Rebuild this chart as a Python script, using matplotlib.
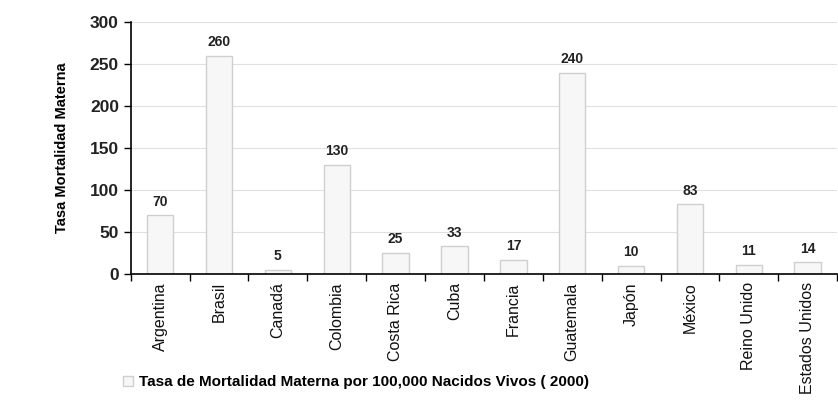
import matplotlib.pyplot as plt
import numpy as np

paises = ['Argentina', 'Brasil', 'Canadá', 'Colombia', 'Costa Rica', 'Cuba',
          'Francia', 'Guatemala', 'Japón', 'México', 'Reino Unido', 'Estados Unidos']
tasas = [70, 260, 5, 130, 25, 33, 17, 240, 10, 83, 11, 14]
yticks = [0, 50, 100, 150, 200, 250, 300]

plt.rcParams['font.family'] = ['Liberation Sans', 'DejaVu Sans']

fig = plt.figure(figsize=(8.38, 4.03), dpi=100)
ax = fig.add_axes([0.156, 0.320, 0.843, 0.625])

x = np.arange(len(paises))
ax.bar(x, tasas, width=0.45, color='#f7f7f7', edgecolor='#cfcfcf', linewidth=1,
       label='Tasa de Mortalidad Materna por 100,000 Nacidos Vivos ( 2000)', zorder=2)
for xi, v in zip(x, tasas):
    ax.text(xi, v + 8, str(v), ha='center', va='bottom', fontsize=10, fontweight='bold', color='#222222')

ax.set_xlim(-0.5, len(paises) - 0.5)
ax.set_ylim(0, 300)
ax.set_yticks(yticks)
ax.set_yticklabels([str(t) for t in yticks], fontsize=12.5, fontweight='bold', color='#222222')
ax.yaxis.grid(True, color='#e0e0e0', linewidth=0.8, zorder=0)
ax.set_axisbelow(True)

ax.set_xticks(np.arange(len(paises) + 1) - 0.5)
ax.set_xticklabels([])
ax.set_xticks(x, minor=True)
ax.set_xticklabels(paises, minor=True, rotation=90, fontsize=11.5, color='#111111')
ax.tick_params(axis='x', which='minor', length=0, pad=6)
ax.tick_params(axis='x', which='major', length=5, width=1)
ax.tick_params(axis='y', length=5, width=1)

for s in ['top', 'right']:
    ax.spines[s].set_visible(False)
ax.spines['left'].set_linewidth(1.2)
ax.spines['bottom'].set_linewidth(1.2)

ax.set_ylabel('Tasa Mortalidad Materna', fontsize=10.5, fontweight='bold', labelpad=15)

fig.legend(loc='lower left', bbox_to_anchor=(0.13, 0.0), frameon=False,
           prop={'size': 11, 'weight': 'bold'}, handlelength=0.7, handleheight=0.7,
           handletextpad=0.4)

fig.savefig('out.png', dpi=100)
